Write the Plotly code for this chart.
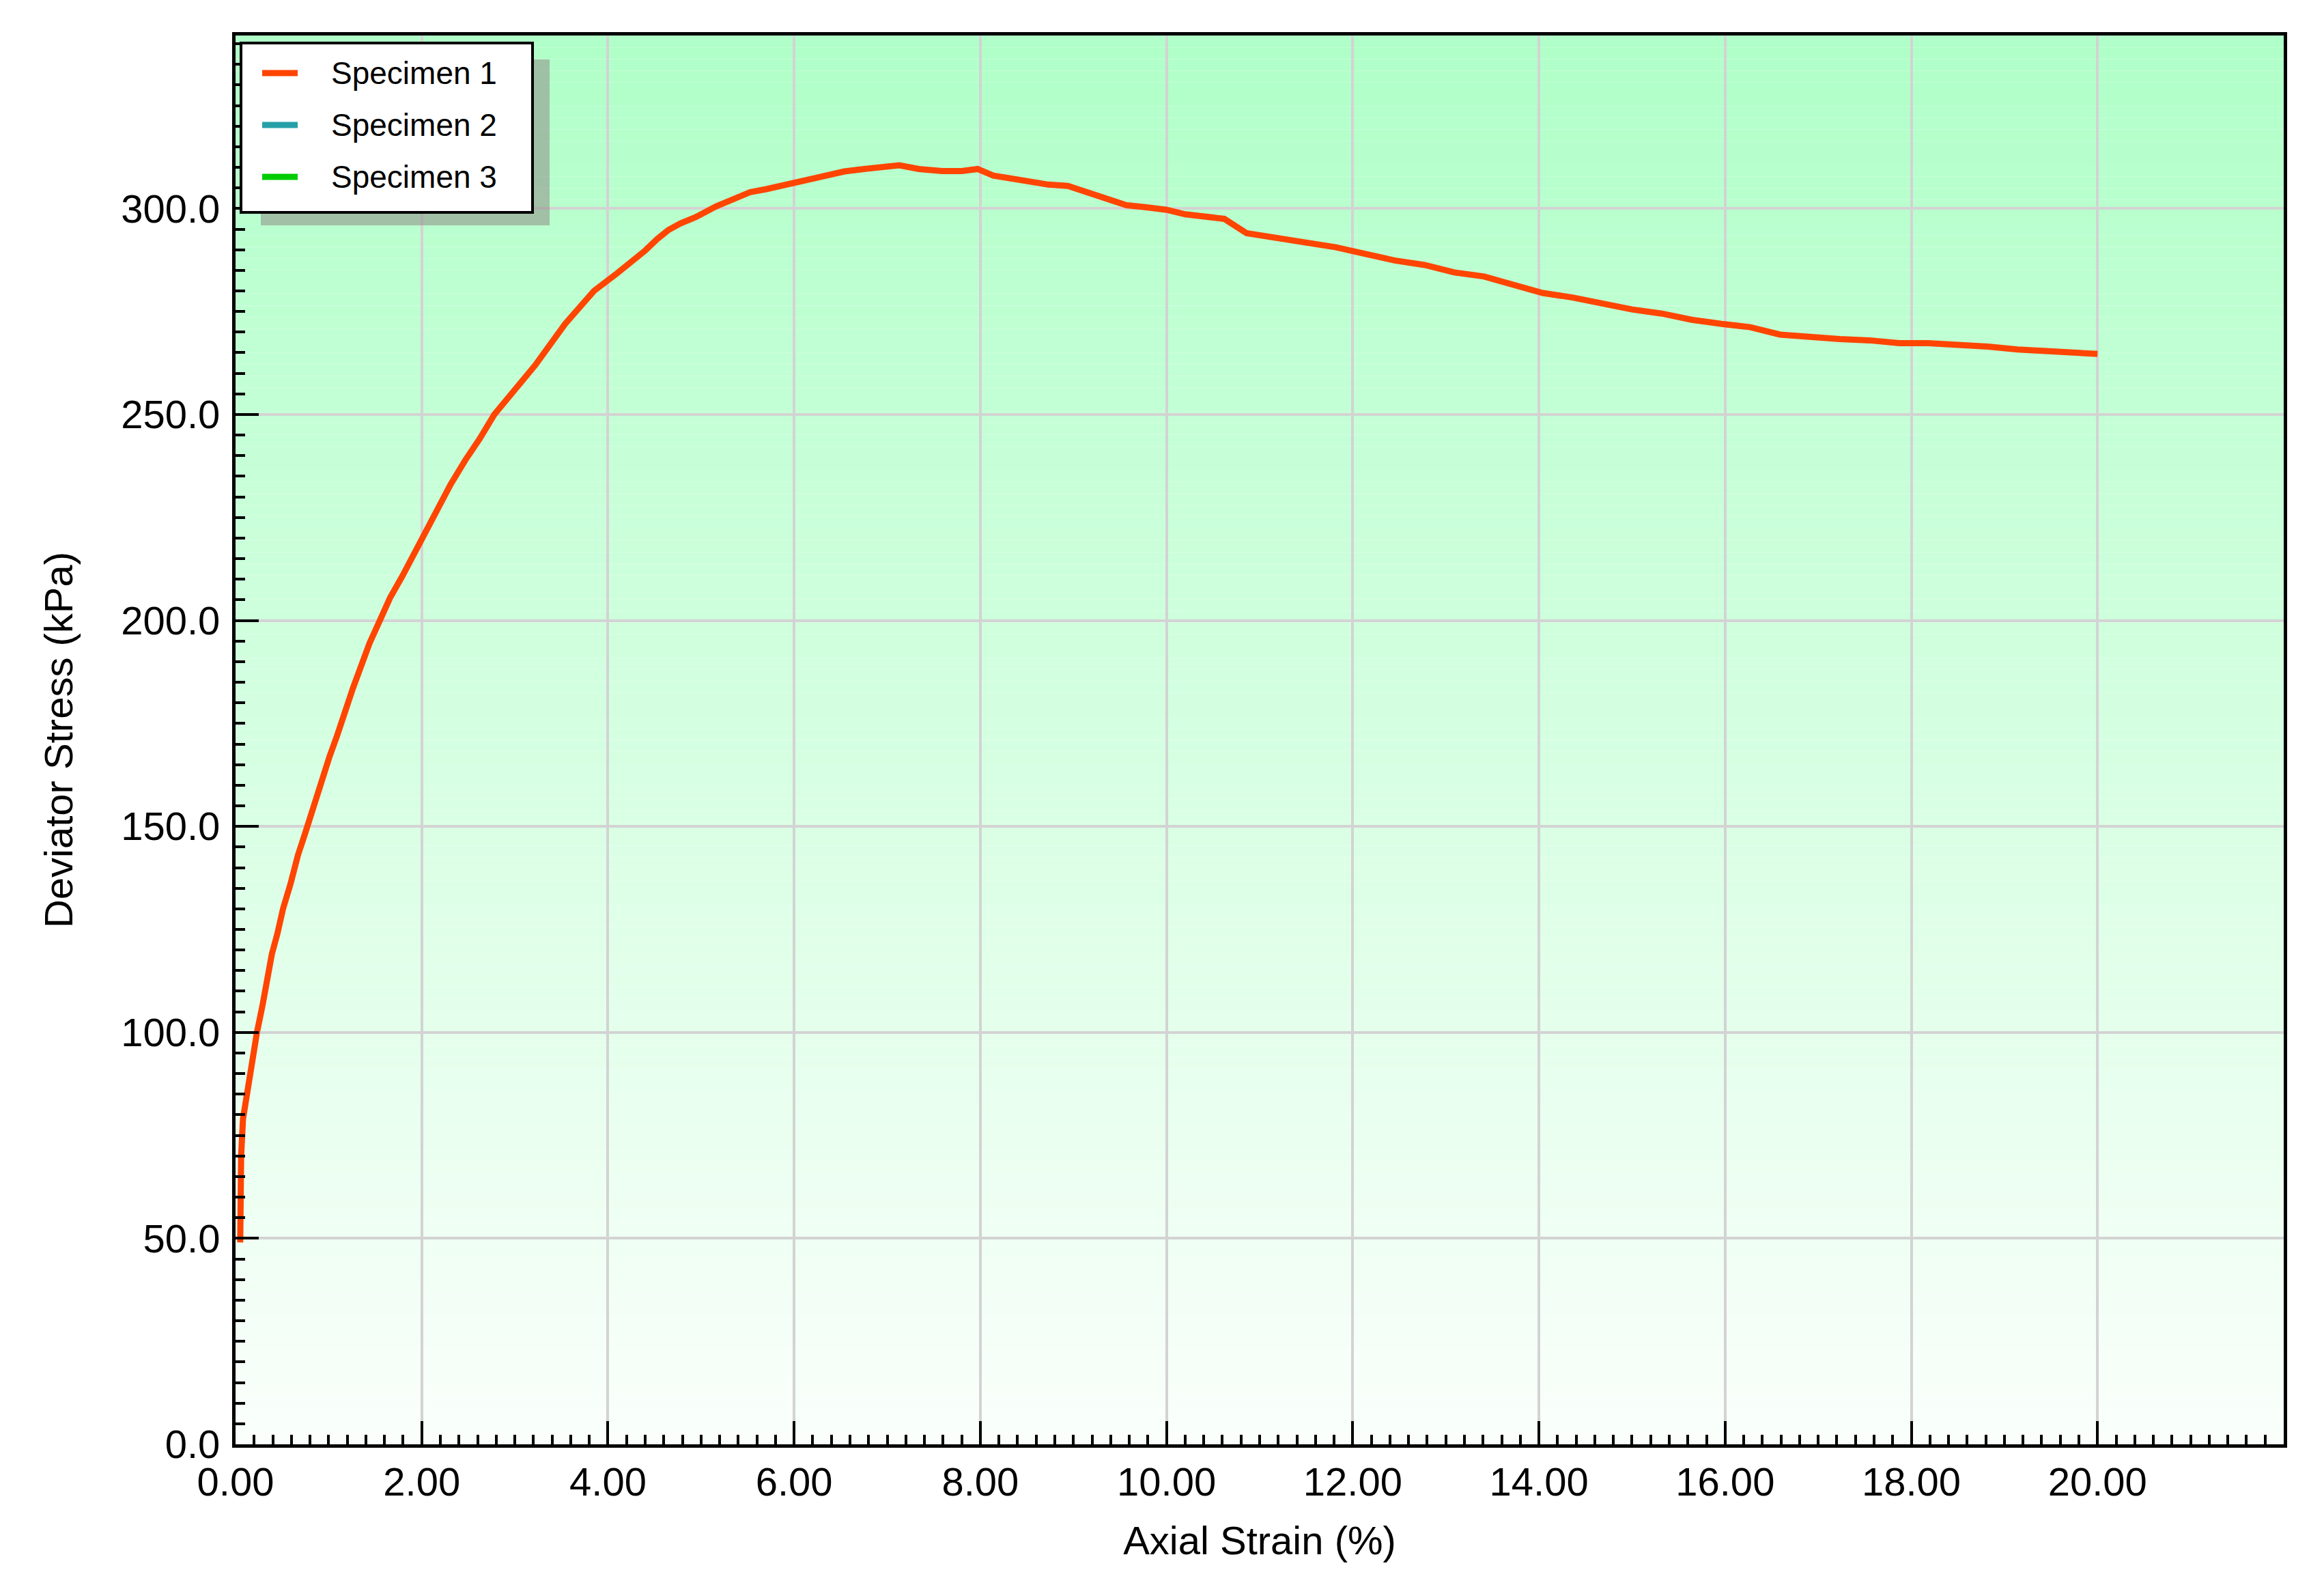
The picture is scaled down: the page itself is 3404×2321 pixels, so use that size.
"""
Courbe contrainte déviatorique / déformation axiale (essai triaxial).
"""

import plotly.graph_objects as go

# --- données -----------------------------------------------------------
strain_1 = [
    0.05, 0.05, 0.06, 0.08, 0.115, 0.155, 0.19, 0.23, 0.29, 0.34,
    0.39, 0.45, 0.51, 0.59, 0.67, 0.75, 0.83, 0.92, 1.01, 1.09,
    1.17, 1.26, 1.35, 1.44, 1.54, 1.66, 1.79, 1.91, 2.00, 2.16,
    2.31, 2.47, 2.62, 2.78, 2.97, 3.22, 3.54, 3.85, 4.10, 4.27,
    4.40, 4.53, 4.65, 4.78, 4.95, 5.16, 5.32, 5.53, 5.70, 5.91,
    6.12, 6.33, 6.54, 6.75, 6.96, 7.13, 7.34, 7.59, 7.80, 7.97,
    8.14, 8.31, 8.52, 8.73, 8.94, 9.15, 9.36, 9.57, 9.78, 10.00,
    10.20, 10.41, 10.62, 10.86, 11.18, 11.50, 11.82, 12.13, 12.45, 12.77,
    13.09, 13.41, 13.73, 14.04, 14.36, 14.68, 15.00, 15.32, 15.64, 15.96,
    16.27, 16.59, 16.91, 17.23, 17.55, 17.87, 18.18, 18.50, 18.82, 19.14,
    19.46, 19.78, 20.00,
]
stress_1 = [
    49.0, 60.0, 70.0, 79.0, 84.0, 90.0, 95.0, 100.0, 106.6, 113.0,
    119.0, 124.0, 130.0, 136.0, 143.0, 148.5, 154.5, 161.0, 167.0, 172.0,
    178.0, 183.5, 189.0, 194.5, 199.5, 205.5, 210.7, 216.0, 220.0, 227.0,
    233.0, 239.0, 244.0, 250.0, 255.0, 262.0, 272.0, 280.0, 284.3, 287.3,
    289.8, 292.6, 294.8, 296.4, 298.0, 300.5, 302.0, 304.0, 304.7, 305.8,
    306.6, 308.0, 309.0, 309.6, 309.9, 310.5, 309.6, 309.1, 309.1, 309.6,
    308.0, 307.4, 306.3, 305.8, 305.5, 303.9, 302.2, 300.8, 300.3, 299.7,
    298.6, 298.0, 297.5, 294.0, 292.8, 291.7, 290.6, 289.0, 287.4, 286.3,
    284.5, 283.5, 281.3, 279.5, 278.4, 277.0, 275.5, 274.5, 273.0, 272.0,
    271.2, 269.4, 268.7, 268.3, 268.0, 267.3, 267.3, 267.0, 266.5, 265.8,
    265.5, 265.0, 264.7,
]
specimen_names = ["Specimen 1", "Specimen 2", "Specimen 3"]
x_ticks = [0, 2, 4, 6, 8, 10, 12, 14, 16, 18, 20]
y_ticks = [0, 50, 100, 150, 200, 250, 300]

COLORS = ["#ff4500", "#26a0a8", "#00cc00"]
FONT = "Liberation Sans, Arial, sans-serif"
GRID = "#d3d3d3"
TOP_GREEN = (176, 255, 200)
BOTTOM_WHITE = (250, 255, 251)

W, H = 3404, 2321
M = dict(l=337, r=67, t=44, b=214)
PLOT_W = W - M["l"] - M["r"]
PLOT_H = H - M["t"] - M["b"]


def px_x(px):
    """Pixel horizontal de la page -> coordonnée papier."""
    return (px - M["l"]) / PLOT_W


def px_y(py):
    """Pixel vertical de la page -> coordonnée papier."""
    return 1 - (py - M["t"]) / PLOT_H


fig = go.Figure()

# Seul le spécimen 1 a des mesures ; les autres n'existent qu'en légende.
fig.add_trace(go.Scatter(
    x=strain_1, y=stress_1, name=specimen_names[0], mode="lines",
    line=dict(color=COLORS[0], width=9),
    showlegend=False,
    hovertemplate="%{x:.2f} %<br>%{y:.1f} kPa<extra>Specimen 1</extra>",
))

# Fond en dégradé vertical (vert clair -> blanc) fait de bandes fines.
n_bands = 120
shapes = []
for i in range(n_bands):
    t = i / (n_bands - 1)
    rgb = [round(b + (a - b) * t) for a, b in zip(TOP_GREEN, BOTTOM_WHITE)]
    shapes.append(dict(
        type="rect", xref="paper", yref="paper",
        x0=0, x1=1, y0=i / n_bands, y1=(i + 1) / n_bands,
        fillcolor=f"rgb({rgb[0]},{rgb[1]},{rgb[2]})",
        line=dict(width=0), layer="below",
    ))

# Légende dessinée à la main : ombre portée, cadre, traits et libellés.
shapes.append(dict(
    type="rect", xref="paper", yref="paper",
    x0=px_x(374), x1=px_x(797), y0=px_y(322), y1=px_y(79),
    fillcolor="rgba(142,142,135,0.56)", line=dict(width=0), layer="above",
))
shapes.append(dict(
    type="rect", xref="paper", yref="paper",
    x0=px_x(345), x1=px_x(772), y0=px_y(303), y1=px_y(55),
    fillcolor="white", line=dict(color="black", width=4), layer="above",
))
annotations = []
for k, (name, c) in enumerate(zip(specimen_names, COLORS)):
    row_y = px_y(99 + 76 * k)
    shapes.append(dict(
        type="line", xref="paper", yref="paper",
        x0=px_x(376), x1=px_x(428), y0=row_y, y1=row_y,
        line=dict(color=c, width=9), layer="above",
    ))
    annotations.append(dict(
        text=name, xref="paper", yref="paper",
        x=px_x(475), y=row_y, xanchor="left", yanchor="middle",
        showarrow=False, font=dict(family=FONT, size=46, color="black"),
    ))

axis_common = dict(
    showline=True, linecolor="black", linewidth=5, mirror=True,
    ticks="inside", ticklen=34, tickwidth=4, tickcolor="black",
    showgrid=True, gridcolor=GRID, gridwidth=4,
    zeroline=False,
    tickfont=dict(family=FONT, size=58, color="black"),
)

fig.update_layout(
    width=W, height=H,
    margin=M,
    paper_bgcolor="white",
    plot_bgcolor="white",
    shapes=shapes,
    annotations=annotations,
    showlegend=False,
    xaxis=dict(
        axis_common,
        range=[0, 22], tickmode="array", tickvals=x_ticks, tickformat=".2f",
        minor=dict(tickmode="linear", tick0=0, dtick=0.2, ticks="inside",
                   ticklen=14, tickwidth=4, tickcolor="black", showgrid=False),
        title=dict(text="Axial Strain (%)", standoff=36,
                   font=dict(family=FONT, size=58, color="black")),
        ticklabelstandoff=0,
    ),
    yaxis=dict(
        axis_common,
        range=[0, 342], tickmode="array", tickvals=y_ticks, tickformat=".1f",
        minor=dict(tickmode="linear", tick0=0, dtick=5, ticks="inside",
                   ticklen=14, tickwidth=4, tickcolor="black", showgrid=False),
        title=dict(text="Deviator Stress (kPa)", standoff=53,
                   font=dict(family=FONT, size=58, color="black")),
        ticklabelstandoff=6,
    ),
)

fig.write_html("out.html")
